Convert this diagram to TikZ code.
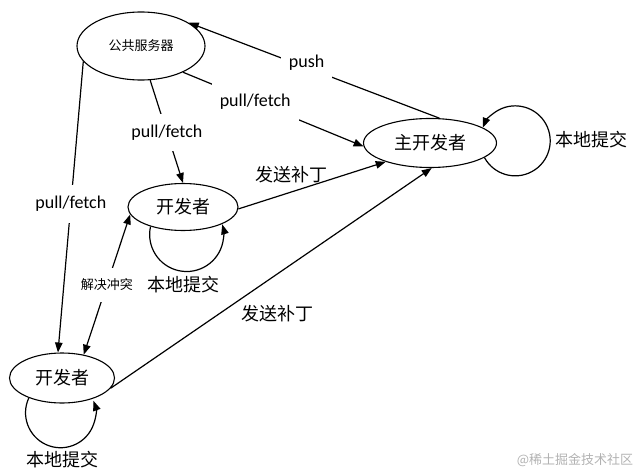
\documentclass[tikz,border=0pt]{standalone}
\usepackage{fontspec}
\setmainfont{Carlito}
\newfontfamily\cjk{Noto Sans CJK SC}
\usetikzlibrary{shapes.geometric,arrows.meta}
\begin{document}
\begin{tikzpicture}[x=1pt,y=1pt,
  >={Triangle[length=10pt,width=7.5pt]},
  st/.style={draw, ellipse, line width=1.1pt, inner sep=0pt},
  arr/.style={line width=1.2pt, ->},
  lab/.style={fill=white, inner xsep=8pt, inner ysep=11pt, font=\fontsize{18}{20}\selectfont},
  cj/.style={font=\cjk\fontsize{18}{20}\selectfont},
  cjs/.style={font=\cjk\fontsize{13}{15}\selectfont},
]
\useasboundingbox (0,0) rectangle (640,-471);
\node[st, minimum width=128pt, minimum height=68pt, cjs] (srv) at (141,-46) {公共服务器};
\node[st, minimum width=133pt, minimum height=49pt, cj] (md) at (430,-143) {主开发者};
\node[st, minimum width=110pt, minimum height=47pt, cj] (d1) at (183,-207) {开发者};
\node[st, minimum width=105pt, minimum height=50pt, cj] (d2) at (62,-378) {开发者};

\node[cj] (l0) at (591,-140) {本地提交};
\node[cj] (l1) at (183,-285) {本地提交};
\node[cj] (l2) at (63,-460) {本地提交};

\draw[arr] (md.-15) arc[start angle=208.6, end angle=518.1, radius=35pt];
\draw[arr] (d1.211) arc[start angle=167.5, end angle=376, radius=37pt];
\draw[arr] (d2.211) arc[start angle=155, end angle=380, radius=35pt];

\draw[arr] (md.69) -- node[lab,pos=.53,yshift=5pt]{push} (srv.26);
\draw[arr] (srv.-32.7) -- node[lab,pos=.4]{pull/fetch} (md.183);
\draw[arr] (srv.-75) -- node[lab,pos=.51]{pull/fetch} (d1.north);
\draw[arr] (srv.195) -- node[lab,pos=.49]{pull/fetch} (d2.99);
\draw[arr] (d1.-2) -- node[cj,pos=.36,yshift=17pt]{发送补丁} (md.203);
\draw[arr] (d2.-12.8) -- node[cj,pos=.52,yshift=-40pt]{发送补丁} (md.-86);
\draw[line width=1.2pt, <->] (d2.47) -- node[lab, cjs, pos=.5]{解决冲突} (d1.188);

\node[cjs, text=black!30] (wm) at (575,-460) {@稀土掘金技术社区};
\end{tikzpicture}
\end{document}
